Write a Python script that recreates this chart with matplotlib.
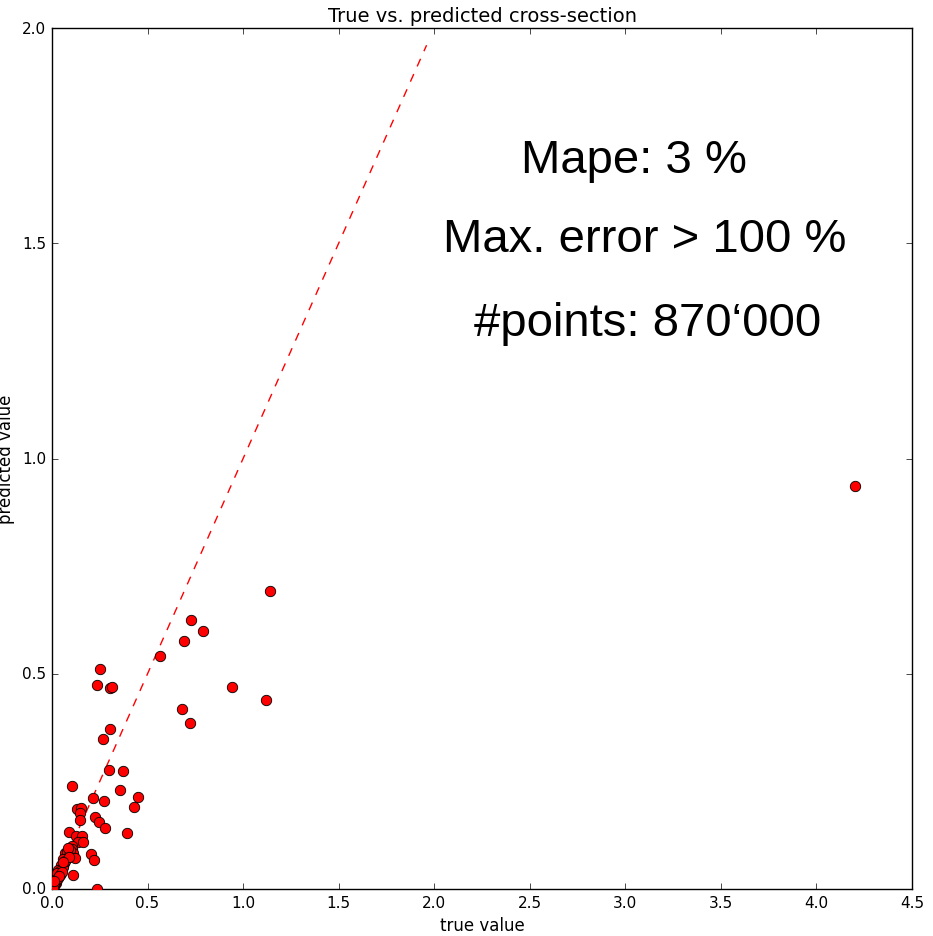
import matplotlib
matplotlib.use("Agg")
import matplotlib.pyplot as plt

plt.style.use("classic")

# true / predicted cross-section values
true_vals = [
    4.20, 1.141, 0.727, 0.790, 0.691, 0.565, 0.942, 1.120, 0.680, 0.722,
    0.251, 0.235, 0.304, 0.314, 0.304, 0.267, 0.298, 0.372, 0.105, 0.215,
    0.356, 0.450, 0.429, 0.272, 0.225, 0.246, 0.277, 0.392, 0.129, 0.153,
    0.147, 0.147, 0.087, 0.124, 0.159, 0.134, 0.163, 0.107, 0.105, 0.111,
    0.095, 0.204, 0.218, 0.068, 0.079, 0.076, 0.120, 0.060, 0.047, 0.065,
    0.055, 0.033, 0.042, 0.025, 0.040, 0.025, 0.020, 0.016, 0.010, 0.006,
    0.110, 0.233, 0.085, 0.070, 0.050, 0.090, 0.030, 0.055, 0.035, 0.012,
]
pred_vals = [
    0.937, 0.693, 0.626, 0.600, 0.577, 0.542, 0.470, 0.440, 0.419, 0.386,
    0.512, 0.474, 0.467, 0.469, 0.372, 0.349, 0.277, 0.274, 0.240, 0.212,
    0.230, 0.214, 0.191, 0.205, 0.167, 0.156, 0.142, 0.130, 0.186, 0.188,
    0.176, 0.160, 0.133, 0.122, 0.122, 0.110, 0.110, 0.100, 0.092, 0.084,
    0.090, 0.081, 0.068, 0.083, 0.085, 0.073, 0.073, 0.070, 0.056, 0.060,
    0.050, 0.044, 0.041, 0.037, 0.033, 0.024, 0.015, 0.013, 0.008, 0.003,
    0.033, 0.000, 0.095, 0.065, 0.040, 0.075, 0.025, 0.062, 0.030, 0.018,
]
diag_end = 1.96

stats_lines = ["Mape: 3 %", "Max. error > 100 %", "#points: 870\u2018000"]
stats_x = [3.043, 3.103, 3.119]
stats_y = [1.665, 1.481, 1.288]

fig = plt.figure(figsize=(9.33, 9.37), dpi=100, facecolor="white")
ax = fig.add_axes([52 / 933, 47 / 937, 860 / 933, 861 / 937])

ax.plot(true_vals, pred_vals, "o", color="red", markeredgecolor="black",
        markeredgewidth=0.6, markersize=7.5, zorder=3)
ax.plot([0, diag_end], [0, diag_end], "--", color="red", linewidth=1, zorder=2)

ax.set_xlim(0, 4.5)
ax.set_ylim(0, 2.0)
ax.set_xticks([0.0, 0.5, 1.0, 1.5, 2.0, 2.5, 3.0, 3.5, 4.0, 4.5])
ax.set_yticks([0.0, 0.5, 1.0, 1.5, 2.0])
ax.tick_params(labelsize=11)
ax.set_xlabel("true value", fontsize=12)
ax.set_ylabel("predicted value", fontsize=12)
ax.set_title("True vs. predicted cross-section", fontsize=14)

for txt, tx, ty in zip(stats_lines, stats_x, stats_y):
    ax.text(tx, ty, txt, ha="center", va="baseline",
            fontsize=34, family="Liberation Sans", color="black")

fig.savefig("out.png", dpi=100, facecolor="white")
